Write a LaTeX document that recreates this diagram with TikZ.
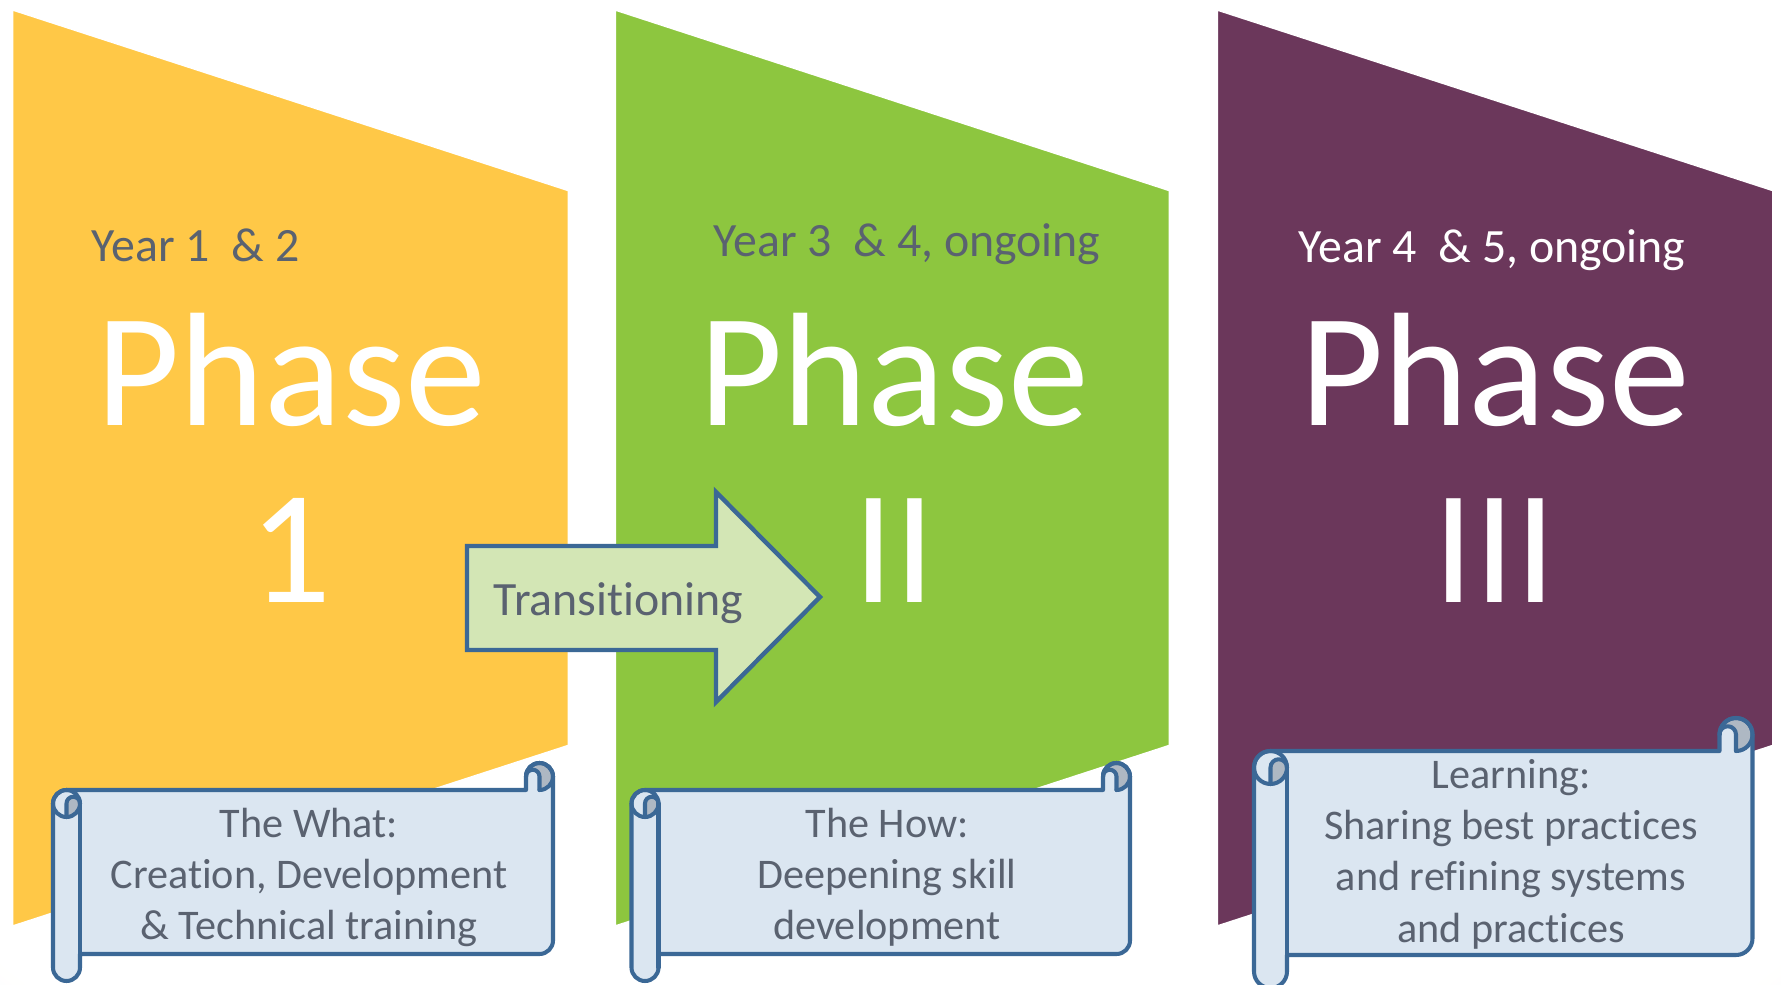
\documentclass[tikz,border=0pt]{standalone}
\usepackage{fontspec}
\setmainfont{Carlito}[Ligatures=NoCommon]
\definecolor{bgcream}{HTML}{F2EFE0}
\definecolor{phaseyellow}{HTML}{FFC847}
\definecolor{phasegreen}{HTML}{8DC63F}
\definecolor{phasepurple}{HTML}{6B375B}
\definecolor{arrowgreen}{HTML}{D3E6B5}
\definecolor{scrollblue}{HTML}{DBE6F1}
\definecolor{edgeblue}{HTML}{3B6896}
\definecolor{curlgray}{HTML}{AEB8C3}
\definecolor{slatetext}{HTML}{5A6270}
\pgfdeclareradialshading{bgglow}{\pgfpoint{0bp}{0bp}}{color(0bp)=(white); color(33bp)=(white); color(49bp)=(bgcream); color(75bp)=(bgcream)}

% Horizontal scroll: #1 left, #2 top, #3 width, #4 height, #5 roll size
\newcommand\hscroll[5]{%
  \pgfmathsetmacro\scL{#1}%
  \pgfmathsetmacro\scR{#1+#3}%
  \pgfmathsetmacro\scXa{#1+#5/2}%
  \pgfmathsetmacro\scXb{#1+#5}%
  \pgfmathsetmacro\scXc{#1+#3-#5}%
  \pgfmathsetmacro\scXd{#1+#3-#5/2}%
  \pgfmathsetmacro\scYa{#2-#5/2}%
  \pgfmathsetmacro\scYb{#2-#5}%
  \pgfmathsetmacro\scYc{#2-1.5*#5}%
  \pgfmathsetmacro\scYd{#2-2*#5}%
  \pgfmathsetmacro\scYe{#2-#4+1.5*#5}%
  \pgfmathsetmacro\scYf{#2-#4+#5}%
  \pgfmathsetmacro\scYg{#2-#4+#5/2}%
  \pgfmathsetmacro\scRh{#5/2*0.01}%
  \pgfmathsetmacro\scRq{#5/4*0.01}%
  \def\scOutline{(\scL,\scYc) arc[start angle=180,end angle=90,radius=\scRh cm]
    -- (\scXc,\scYb) -- (\scXc,\scYa) arc[start angle=180,end angle=0,radius=\scRh cm]
    -- (\scR,\scYe) arc[start angle=0,end angle=-90,radius=\scRh cm]
    -- (\scXb,\scYf) -- (\scXb,\scYg) arc[start angle=0,end angle=-180,radius=\scRh cm] -- cycle}%
  \fill[scrollbody] \scOutline;
  \fill[curlgray] (\scXd,\scYa) circle[radius=\scRh cm];
  \fill[scrollbody] (\scXc,\scYb) -- (\scXc,\scYa) arc[start angle=180,end angle=0,radius=\scRq cm] -- (\scXd,\scYb) -- cycle;
  \fill[curlgray] (\scXa,\scYd) arc[start angle=-90,end angle=0,radius=\scRh cm] arc[start angle=0,end angle=180,radius=\scRq cm] -- cycle;
  \draw[scrollline] \scOutline;
  \draw[scrollline] (\scXa,\scYc) circle[radius=\scRh cm];
  \draw[scrollline] (\scXa,\scYd) -- (\scXa,\scYc) arc[start angle=180,end angle=0,radius=\scRq cm];
  \draw[scrollline] (\scXb,\scYc) -- (\scXb,\scYg);
  \draw[scrollline] (\scXc,\scYa) arc[start angle=180,end angle=-90,radius=\scRh cm];
  \draw[scrollline] (\scXc,\scYa) arc[start angle=180,end angle=0,radius=\scRq cm] -- (\scXd,\scYb);
}

\begin{document}
\begin{tikzpicture}[x=0.01cm,y=0.01cm,
  phase/.style={draw=white,line width=0.85pt,line join=miter},
  scrollbody/.style={fill=scrollblue},
  scrollline/.style={draw=edgeblue,line width=1.15pt,line join=round,line cap=round},
  yeartext/.style={inner sep=0pt,anchor=base west,font=\fontsize{13.6}{16}\selectfont},
  bigtext/.style={inner sep=0pt,anchor=base,text=white,font=\fontsize{46}{50}\selectfont},
  scrolltext/.style={inner sep=0pt,anchor=base,text=slatetext,font=\fontsize{12}{14.6}\selectfont},
  arrowbody/.style={fill=arrowgreen,draw=edgeblue,line width=1.25pt,line join=miter}]
\useasboundingbox (0,0) rectangle (1781,984);

% page background with a soft cream rim
\begin{scope}
  \clip (0,0) rectangle (1781,984);
  \shade[shading=bgglow] (-50,-30) rectangle (1831,1500);
\end{scope}

% the three phase panels
\path[phase,fill=phaseyellow] (12,975) -- (569,794) -- (569,238) -- (12,57) -- cycle;
\path[phase,fill=phasegreen] (614.5,975) -- (1170,794) -- (1170,238) -- (614.5,57) -- cycle;
\path[phase,fill=phasepurple] (1216.5,975) -- (1773.5,794) -- (1773.5,238) -- (1216.5,57) -- cycle;

% panel headings
\node[yeartext,text=slatetext] (year1) at (91,722) {Year 1\ \ \& 2};
\node[yeartext,text=slatetext] (year2) at (713,727) {Year 3\ \ \& 4, ongoing};
\node[yeartext,text=white] (year3) at (1298,721) {Year 4\ \ \& 5, ongoing};

\node[bigtext] (phase1) at (291,558) {Phase};
\node[bigtext] (phase2) at (894,558) {Phase};
\node[bigtext] (phase3) at (1495,558) {Phase};
\node[bigtext] (num1) at (290,382) {1};
\node[bigtext] (num2) at (894,382) {II};
\node[bigtext] (num3) at (1495,382) {III};

% transition arrow
\draw[arrowbody] (467,438) -- (716,438) -- (716,492) -- (820,387) -- (716,282) -- (716,334) -- (467,334) -- cycle;
\node[yeartext,text=slatetext] (trans) at (493,369) {Transitioning};

% scroll banners
\hscroll{53}{221}{500}{218}{27}
\hscroll{631.5}{221}{498.5}{218}{27}
\hscroll{1254}{266}{498.5}{270}{33}

\node[scrolltext] (what) at (309,147) {\begin{tabular}[t]{@{}c@{}}The What:\\Creation, Development\\\& Technical training\end{tabular}};
\node[scrolltext] (how) at (887,147) {\begin{tabular}[t]{@{}c@{}}The How:\\Deepening skill\\development\end{tabular}};
\node[scrolltext] (learn) at (1511,196) {\begin{tabular}[t]{@{}c@{}}Learning:\\Sharing best practices\\and refining systems\\and practices\end{tabular}};
\end{tikzpicture}
\end{document}
